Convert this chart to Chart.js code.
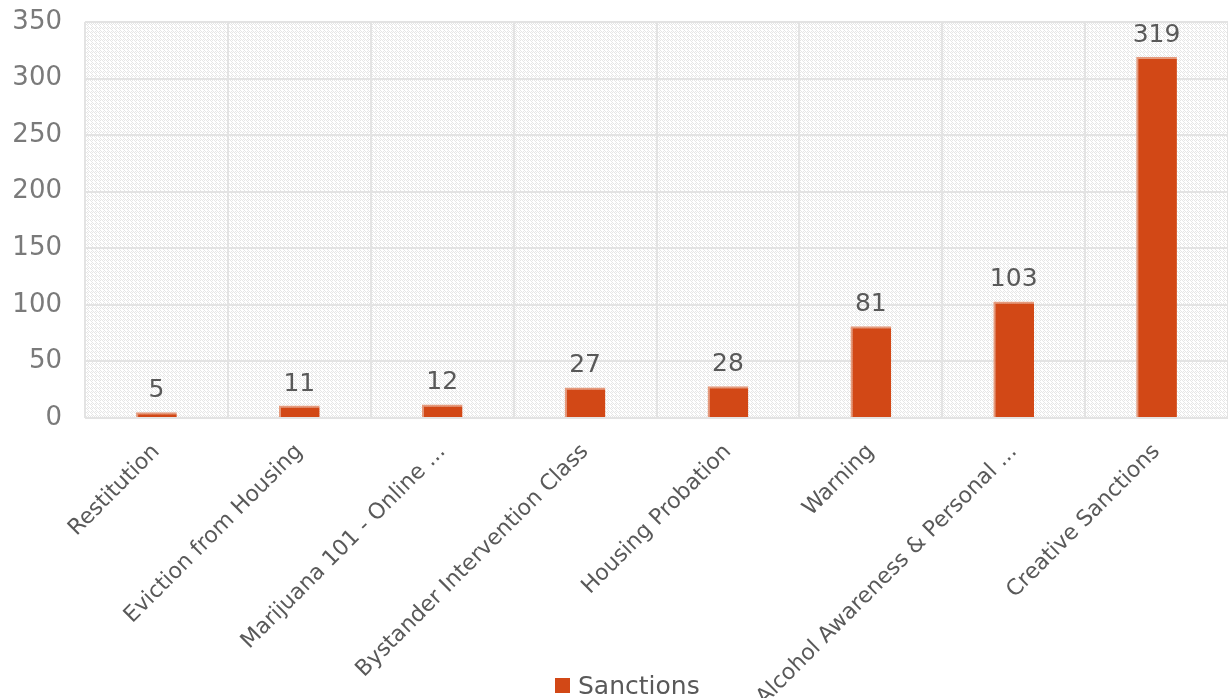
<!DOCTYPE html>
<html>
<head>
<meta charset="utf-8">
<script src="https://cdn.jsdelivr.net/npm/chart.js@4"></script>
<style>
html,body{margin:0;padding:0;background:#fff;}
#wrap{width:1228px;height:698px;}
</style>
</head>
<body>
<div id="wrap"><canvas id="c" width="1228" height="698"></canvas></div>
<script>
const categories = ["Restitution","Eviction from Housing","Marijuana 101 - Online ...","Bystander Intervention Class","Housing Probation","Warning","Alcohol Awareness & Personal ...","Creative Sanctions"];
const sanctions = [5, 11, 12, 27, 28, 81, 103, 319];
const seriesName = "Sanctions";
const yTicks = [0, 50, 100, 150, 200, 250, 300, 350];

const FONT = '"DejaVu Sans"';
const BAR_COLOR = '#D24816';

const pc = document.createElement('canvas');
pc.width = 4; pc.height = 4;
const px = pc.getContext('2d');
px.fillStyle = '#ffffff'; px.fillRect(0,0,4,4);
px.fillStyle = '#e6e6e6';
[[0,0],[2,0],[1,1],[3,1],[0,2],[2,2],[1,3],[3,3]].forEach(([x,y],i)=>{ if(i%3!==2) px.fillRect(x,y,1,1); });

const bgPlugin = {
  id: 'bgPattern',
  beforeDraw(chart){
    const {ctx, chartArea:a} = chart;
    ctx.save();
    ctx.fillStyle = ctx.createPattern(pc,'repeat');
    ctx.fillRect(a.left, a.top, a.right-a.left, a.bottom-a.top);
    ctx.restore();
  }
};
const labelPlugin = {
  id: 'valueLabels',
  afterDatasetsDraw(chart){
    const {ctx} = chart;
    const meta = chart.getDatasetMeta(0);
    ctx.save();
    ctx.font = '25px ' + FONT;
    ctx.fillStyle = '#595959';
    ctx.textAlign = 'center';
    ctx.textBaseline = 'alphabetic';
    meta.data.forEach((bar,i)=>{
      ctx.fillText(String(sanctions[i]), bar.x, bar.y - 15);
    });
    ctx.restore();
  }
};
const legendPlugin = {
  id: 'bottomLegend',
  afterDraw(chart){
    const {ctx} = chart;
    ctx.save();
    ctx.font = '25px ' + FONT;
    const w = ctx.measureText(seriesName).width;
    const total = 15 + 8 + w;
    const x0 = Math.round(chart.width/2 - total/2) + 13;
    ctx.fillStyle = BAR_COLOR;
    ctx.fillRect(x0, 678, 15, 15);
    ctx.fillStyle = '#595959';
    ctx.textAlign = 'left';
    ctx.textBaseline = 'alphabetic';
    ctx.fillText(seriesName, x0 + 23, 694);
    ctx.restore();
  }
};

new Chart(document.getElementById('c'), {
  type: 'bar',
  data: {
    labels: categories,
    datasets: [{
      label: seriesName,
      data: sanctions,
      backgroundColor: BAR_COLOR,
      borderColor: '#E59A7C',
      borderWidth: { left: 2, top: 2, right: 0, bottom: 0 },
      borderSkipped: false,
      categoryPercentage: 1,
      barPercentage: 0.285
    }]
  },
  options: {
    responsive: false,
    animation: false,
    layout: { padding: { top: 22, right: 0, left: 0, bottom: 0 } },
    plugins: {
      legend: { display: false },
      tooltip: { enabled: false }
    },
    scales: {
      y: {
        min: 0, max: 350,
        afterBuildTicks(axis){ axis.ticks = yTicks.map(v=>({value:v})); },
        afterFit(axis){ axis.width = 85; axis.paddingTop = 0; axis.paddingBottom = 0; },
        ticks: { color: '#7a7a7a', font: { size: 26, family: FONT }, padding: 23 },
        grid: { color: '#e3e3e3', lineWidth: 2, drawTicks: false },
        border: { display: false }
      },
      x: {
        afterFit(axis){ axis.height = 280; axis.paddingLeft = 0; axis.paddingRight = 0; },
        ticks: { color: '#595959', font: { size: 22, family: FONT }, minRotation: 45, maxRotation: 45, autoSkip: false, padding: 21 },
        grid: { color: '#e3e3e3', lineWidth: 2, drawTicks: false },
        border: { display: false }
      }
    }
  },
  plugins: [bgPlugin, labelPlugin, legendPlugin]
});
</script>
</body>
</html>
